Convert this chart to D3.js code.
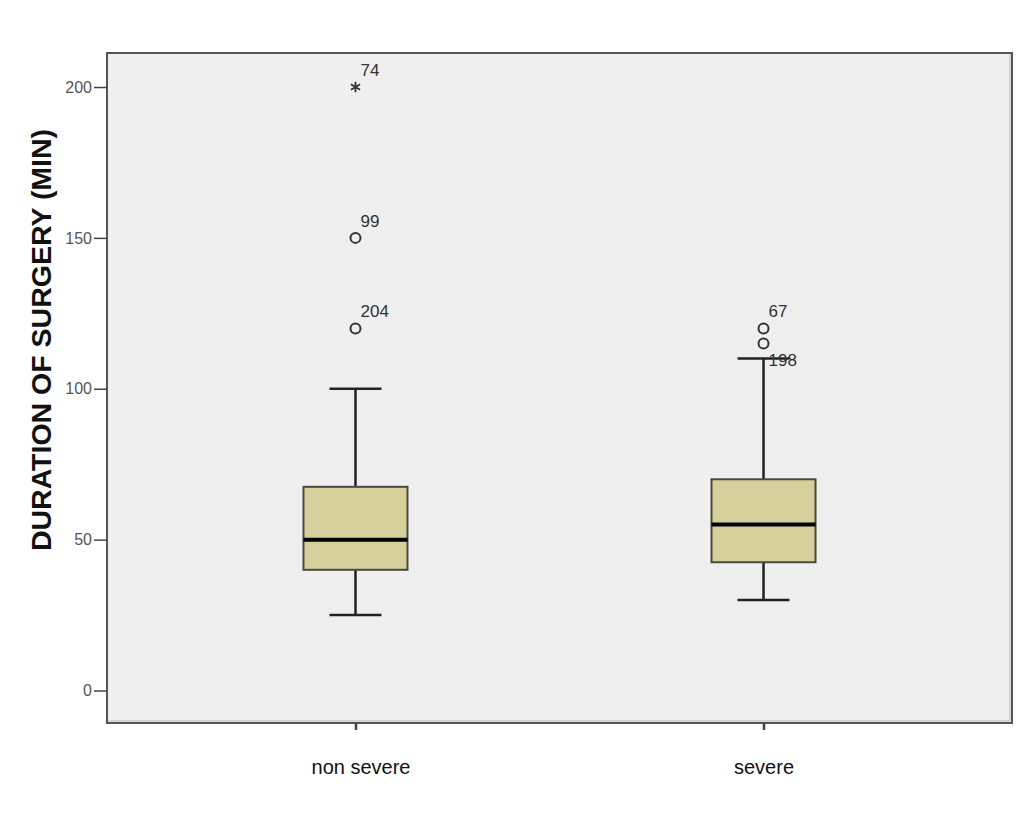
<!DOCTYPE html>
<html><head><meta charset="utf-8">
<script src="https://cdn.jsdelivr.net/npm/d3@7"></script>
<style>body{margin:0;background:#fff;} svg{display:block;font-family:Arial,"Liberation Sans",sans-serif;}</style>
</head><body>
<svg id="c" width="1024" height="822"></svg>
<script>
const categories = ["non severe", "severe"];
const q1 = [40, 42.5];
const medians = [50, 55];
const q3 = [67.5, 70];
const whiskerLow = [25, 30];
const whiskerHigh = [100, 110];
// outliers: category index, value, case label, kind
const outlierCat = [0, 0, 0, 1, 1];
const outlierVal = [200, 150, 120, 120, 115];
const outlierLabel = ["74", "99", "204", "67", "198"];
const outlierKind = ["extreme", "circle", "circle", "circle", "circle"];
const yTicks = [0, 50, 100, 150, 200];

const svg = d3.select("#c");
const L = 107, R = 1012, T = 53, B = 723;
const y = d3.scaleLinear().domain([0, 200]).range([690.5, 87]);
const x = d3.scalePoint().domain(categories).range([L, R]).padding(0.609);
const boxW = 104, capW = 52;

svg.append("rect").attr("x", L).attr("y", T).attr("width", R - L).attr("height", B - T)
  .attr("fill", "#efefef").attr("stroke", "#555").attr("stroke-width", 2);
svg.append("path").attr("d", `M${L+1},${B-2}H${R-2}V${T+1}`).attr("fill","none").attr("stroke","#bbb").attr("stroke-width",1);

// y axis
const yAxis = d3.axisLeft(y).tickValues(yTicks).tickSize(13).tickPadding(2);
const gy = svg.append("g").attr("transform", `translate(${L},0)`).call(yAxis);
gy.select(".domain").remove();
gy.selectAll(".tick line").attr("stroke", "#444").attr("stroke-width", 1.5);
gy.selectAll(".tick text").attr("fill", "#555").style("font-size", "16px");

// x axis
const xAxis = d3.axisBottom(x).tickSize(7).tickPadding(30);
const gx = svg.append("g").attr("transform", `translate(0,${B})`).call(xAxis);
gx.select(".domain").remove();
gx.selectAll(".tick line").attr("stroke", "#444").attr("stroke-width", 2.5);
gx.selectAll(".tick text").attr("fill", "#111").style("font-size", "20px").attr("dx", (d, i) => i === 0 ? 5 : 0);

// y label
svg.append("text").attr("transform", "translate(51,340) rotate(-90)")
  .attr("text-anchor", "middle").style("font-size", "28.5px").style("font-weight", "bold")
  .attr("fill", "#111").text("DURATION OF SURGERY (MIN)");

// boxes
categories.forEach((c, i) => {
  const cx = x(c);
  const g = svg.append("g");
  const st = (sel) => sel.attr("stroke", "#222").attr("stroke-width", 2.5);
  st(g.append("line").attr("x1", cx).attr("x2", cx).attr("y1", y(whiskerHigh[i])).attr("y2", y(q3[i])));
  st(g.append("line").attr("x1", cx).attr("x2", cx).attr("y1", y(q1[i])).attr("y2", y(whiskerLow[i])));
  st(g.append("line").attr("x1", cx - capW/2).attr("x2", cx + capW/2).attr("y1", y(whiskerHigh[i])).attr("y2", y(whiskerHigh[i])));
  st(g.append("line").attr("x1", cx - capW/2).attr("x2", cx + capW/2).attr("y1", y(whiskerLow[i])).attr("y2", y(whiskerLow[i])));
  g.append("rect").attr("x", cx - boxW/2).attr("y", y(q3[i])).attr("width", boxW).attr("height", y(q1[i]) - y(q3[i]))
    .attr("fill", "#d6d09c").attr("stroke", "#4a4a3a").attr("stroke-width", 2);
  g.append("line").attr("x1", cx - boxW/2).attr("x2", cx + boxW/2).attr("y1", y(medians[i])).attr("y2", y(medians[i]))
    .attr("stroke", "#000").attr("stroke-width", 4);
});

// outliers
outlierVal.forEach((v, k) => {
  const cx = x(categories[outlierCat[k]]), cy = y(v);
  if (outlierKind[k] === "extreme") {
    svg.append("path").attr("d", d3.symbol(d3.symbolAsterisk, 80)()).attr("transform", `translate(${cx},${cy})`)
      .attr("fill", "none").attr("stroke", "#333").attr("stroke-width", 1.8);
  } else {
    svg.append("circle").attr("cx", cx).attr("cy", cy).attr("r", 5)
      .attr("fill", "none").attr("stroke", "#333").attr("stroke-width", 2);
  }
  const lowered = (outlierCat[k] === 1 && v === 115);
  svg.append("text").attr("x", cx + 5).attr("y", lowered ? cy + 22.5 : cy - 11)
    .style("font-size", "17px").attr("fill", "#333").text(outlierLabel[k]);
});
</script>
</body></html>
